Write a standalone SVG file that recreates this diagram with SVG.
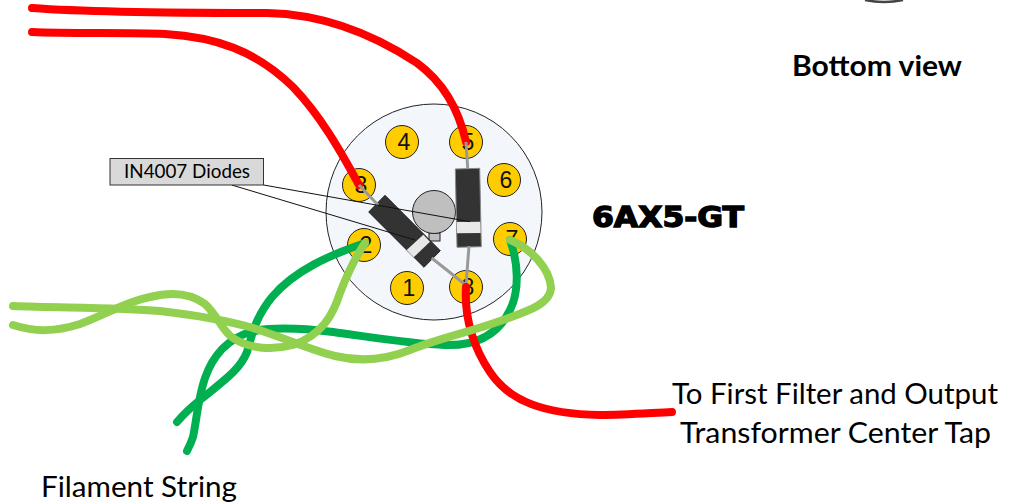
<svg xmlns="http://www.w3.org/2000/svg" width="1017" height="502" viewBox="0 0 1017 502">
<style>
.wire{fill:none;stroke-width:8;stroke-linecap:round;stroke-linejoin:round}
.red{stroke:#ff0000}.dg{stroke:#00b050}.lg{stroke:#92d050}
.lead{fill:none;stroke:#999;stroke-width:3}
.ptr{fill:none;stroke:#111;stroke-width:1}
.pin circle{fill:#ffcc00;stroke:#222;stroke-width:1}
.pin text{font-family:"Liberation Sans",Arial,sans-serif;font-size:23px;fill:#111;text-anchor:middle}
.lbl{font-family:Lato,"Open Sans",sans-serif;fill:#000}
</style>
<rect width="1017" height="502" fill="#fff"/>
<path d="M865 0Q884 4 903 0" fill="none" stroke="#444" stroke-width="2.500"/>
<g id="socket"><circle cx="434" cy="212" r="108" fill="#f3f7fc" stroke="#222" stroke-width="1"/>
<rect x="429" y="233" width="11" height="8" fill="#bfbfbf" stroke="#222"/>
<circle cx="434" cy="212" r="21.500" fill="#bfbfbf" stroke="#222"/></g>
<g id="pin4" class="pin"><circle cx="402" cy="142" r="16.500"/><text x="404" y="150">4</text></g>
<g id="pin5" class="pin"><circle cx="466" cy="142" r="16.500"/><text x="468" y="150">5</text></g>
<g id="pin6" class="pin"><circle cx="504" cy="180" r="16.500"/><text x="506" y="188">6</text></g>
<g id="pin7" class="pin"><circle cx="510" cy="239" r="16.500"/><text x="512" y="247">7</text></g>
<g id="pin8" class="pin"><circle cx="466" cy="287" r="16.500"/><text x="468" y="295">8</text></g>
<g id="pin1" class="pin"><circle cx="407" cy="288" r="16.500"/><text x="409" y="296">1</text></g>
<g id="pin2" class="pin"><circle cx="364" cy="245" r="16.500"/><text x="366" y="253">2</text></g>
<g id="pin3" class="pin"><circle cx="359" cy="185" r="16.500"/><text x="361" y="193">3</text></g>
<g id="diode-a"><polygon points="385,195.300 368.700,212 424,267.300 440.300,250.700" fill="#333" stroke="#222"/><polygon points="423.300,234.700 430,241.700 413.700,257.300 406.700,250" fill="#e8e8e8"/></g>
<g id="diode-b"><polygon points="455.300,169 479.700,168.300 481.300,246.700 457,247.300" fill="#333" stroke="#888"/><polygon points="456.700,222 480.300,221.700 480.700,233 457,233.300" fill="#e8e8e8"/></g>
<g id="connectors">
<path class="wire red" d="M32 8C100 13 200 13 267 13C320 14 370 32 417 63C447 85 460 115 466 142"/>
<path class="wire red" d="M32 32C70 34 130 32 165 34C215 37 255 50 293 87C320 115 340 150 359 185"/>
<path class="lead" d="M359 185L378 205M431.700 258L465.700 285M466 142L467.700 168M469 246L466 285"/>
<path class="wire dg" d="M365 243C330 255 295 270 272 297C255 318 252 335 247 352C240 370 222 382 200 400C190 408 183 415 177 422"/>
<path class="wire dg" d="M510 240C518 262 520 290 510 310C498 335 475 346 445 345C410 344 370 337 333 332C300 328 270 327 250 332C225 340 212 358 205 378C198 398 197 418 193 437C191 443 189 447 187 451"/>
<path class="wire red" d="M466 287C464 320 475 350 490 372C510 402 545 414 600 415C625 415 650 413 672 412"/>
<path class="wire lg" d="M365 243C352 262 345 280 340 293C333 315 322 335 293 345C270 351 248 348 233 338C222 331 218 316 205 304C190 293 170 292 150 297C125 302 105 315 80 324C55 332 35 332 13 325"/>
<path class="wire lg" d="M510 240C530 248 550 268 551 288C550 305 525 312 500 321C470 332 440 338 410 350C385 360 360 362 335 356C310 350 285 338 253 328C225 320 195 315 160 311C115 307 60 308 13 306"/>
<path class="ptr" d="M263.700 185L470 221.700M231.700 185L415 240"/>
</g>
<g id="callout"><rect x="110" y="158.500" width="153.500" height="26.500" fill="#d9d9d9" stroke="#333"/><text class="lbl" x="124" y="178" font-size="18.500" textLength="126" lengthAdjust="spacingAndGlyphs">IN4007 Diodes</text></g>
<text class="lbl" x="792" y="76" font-size="28" font-weight="700" textLength="170" lengthAdjust="spacingAndGlyphs">Bottom view</text>
<text x="592" y="227" font-family="'DejaVu Sans',sans-serif" font-weight="700" font-size="28" stroke="#000" stroke-width="1.400" textLength="152" lengthAdjust="spacingAndGlyphs">6AX5-GT</text>
<text class="lbl" x="672" y="404" font-size="28" textLength="326" lengthAdjust="spacingAndGlyphs">To First Filter and Output</text>
<text class="lbl" x="680" y="443" font-size="28" textLength="311" lengthAdjust="spacingAndGlyphs">Transformer Center Tap</text>
<text class="lbl" x="41" y="497" font-size="28" textLength="196" lengthAdjust="spacingAndGlyphs">Filament String</text>
</svg>
